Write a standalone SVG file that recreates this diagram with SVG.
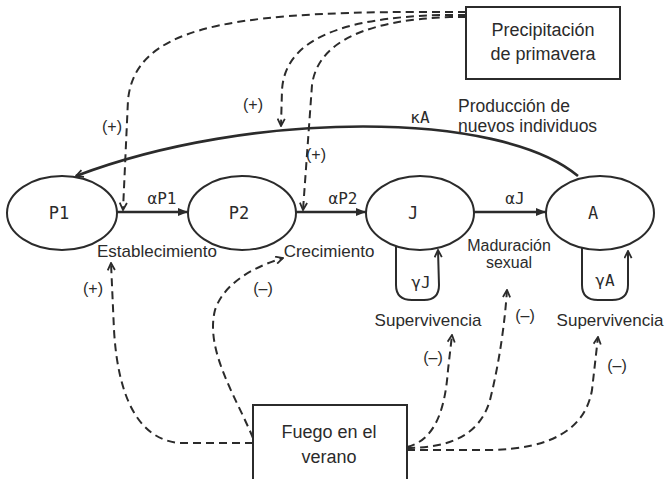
<svg xmlns="http://www.w3.org/2000/svg" width="669" height="479" viewBox="0 0 669 479">
<style>
.node{fill:#fff;stroke:#2b2b2b;stroke-width:2}
.box{fill:#fff;stroke:#2b2b2b;stroke-width:2}
.lbl{font-family:"Liberation Sans",Arial,sans-serif;font-size:17px;fill:#2b2b2b;text-anchor:middle}
.big{font-size:18px}
.nid{font-family:"DejaVu Sans Mono","Liberation Mono",monospace;font-size:17px;fill:#2b2b2b;text-anchor:middle}
.rate{font-family:"DejaVu Sans Mono","Liberation Mono",monospace;font-size:16px;fill:#2b2b2b;text-anchor:middle}
.sign{font-family:"Liberation Sans",Arial,sans-serif;font-size:16px;fill:#2b2b2b;text-anchor:middle}
.solid{fill:none;stroke:#2b2b2b;stroke-width:2.6}
.thin{fill:none;stroke:#2b2b2b;stroke-width:2}
.dash{fill:none;stroke:#2b2b2b;stroke-width:2;stroke-dasharray:8 5}
</style>
<defs>
<marker id="fill" viewBox="0 0 10 8" refX="10" refY="4" markerWidth="10" markerHeight="8" markerUnits="userSpaceOnUse" orient="auto">
<path d="M0,0 L10,4 L0,8 Z" fill="#2b2b2b"/>
</marker>
<marker id="open" viewBox="0 0 10 10" refX="9" refY="5" markerWidth="9" markerHeight="9" markerUnits="userSpaceOnUse" orient="auto">
<path d="M1,1 L9,5 L1,9" fill="none" stroke="#2b2b2b" stroke-width="2"/>
</marker>
</defs>

<g id="connectors">
<path class="solid" d="M117,212 L188,212" marker-end="url(#fill)"/>
<path class="solid" d="M296,212 L366,212" marker-end="url(#fill)"/>
<path class="solid" d="M474,212 L546,212" marker-end="url(#fill)"/>
<path class="solid" d="M578,176 C500,110 250,110 76,176" marker-end="url(#open)"/>
<path class="thin" d="M396,246 L396,285 Q396,300 412,300 L424,300 Q439,300 439,285 L438,250" marker-end="url(#open)"/>
<path class="thin" d="M582,247 L582,285 Q582,300 598,300 L612,300 Q628,300 628,285 L628,251" marker-end="url(#open)"/>
<path class="dash" d="M466,12 L420,12 C220,12 135,30 128,100 L123,210" marker-end="url(#open)"/>
<path class="dash" d="M466,15 L440,15 C340,18 285,40 282,90 L281,126" marker-end="url(#open)"/>
<path class="dash" d="M466,17 L450,17 C370,20 318,40 312,85 L303,210" marker-end="url(#open)"/>
<path class="dash" d="M253,443 L180,443 C140,440 118,400 114,330 L111,263" marker-end="url(#open)"/>
<path class="dash" d="M253,438 C235,395 205,350 215,310 C225,280 260,265 283,258" marker-end="url(#open)"/>
<path class="dash" d="M407,447 C435,440 445,410 448,370 L452,335" marker-end="url(#open)"/>
<path class="dash" d="M407,448 C450,448 480,435 490,400 C500,360 505,320 507,290" marker-end="url(#open)"/>
<path class="dash" d="M407,450 L490,450 C550,449 585,430 592,390 L598,337" marker-end="url(#open)"/>
</g>

<g id="P1"><ellipse class="node" cx="62" cy="213" rx="55" ry="37"/><text class="nid" x="59" y="219">P1</text></g>
<g id="P2"><ellipse class="node" cx="242" cy="213" rx="54" ry="37"/><text class="nid" x="239" y="219">P2</text></g>
<g id="J"><ellipse class="node" cx="420" cy="213" rx="54" ry="37"/><text class="nid" x="413" y="219">J</text></g>
<g id="A"><ellipse class="node" cx="600" cy="213" rx="54" ry="37"/><text class="nid" x="593" y="219">A</text></g>

<g id="precipitacion"><rect class="box" x="466" y="7" width="154" height="72"/>
<text class="lbl big" x="543" y="36">Precipitación</text>
<text class="lbl big" x="543" y="60">de primavera</text></g>

<g id="fuego"><rect class="box" x="253" y="405" width="154" height="80"/>
<text class="lbl big" x="329" y="438">Fuego en el</text>
<text class="lbl big" x="329" y="463">verano</text></g>

<g id="labels">
<text class="rate" x="162" y="204">αP1</text>
<text class="rate" x="343" y="204">αP2</text>
<text class="rate" x="515" y="204">αJ</text>
<text class="rate" x="420" y="123">κA</text>
<text class="rate" x="421" y="288">γJ</text>
<text class="rate" x="605" y="286">γA</text>
<text class="lbl" x="458" y="112" style="text-anchor:start;font-size:17.5px">Producción de</text>
<text class="lbl" x="458" y="132" style="text-anchor:start;font-size:17.5px">nuevos individuos</text>
<text class="lbl" x="157" y="257">Establecimiento</text>
<text class="lbl" x="329" y="257">Crecimiento</text>
<text class="lbl" x="509" y="251" style="font-size:16px">Maduración</text>
<text class="lbl" x="509" y="268" style="font-size:16px">sexual</text>
<text class="lbl" x="428" y="326">Supervivencia</text>
<text class="lbl" x="610" y="326">Supervivencia</text>
<text class="sign" x="112" y="132">(+)</text>
<text class="sign" x="253" y="110">(+)</text>
<text class="sign" x="316" y="160">(+)</text>
<text class="sign" x="93" y="294">(+)</text>
<text class="sign" x="263" y="294">(–)</text>
<text class="sign" x="433" y="363">(–)</text>
<text class="sign" x="525" y="321">(–)</text>
<text class="sign" x="617" y="371">(–)</text>
</g>
</svg>
